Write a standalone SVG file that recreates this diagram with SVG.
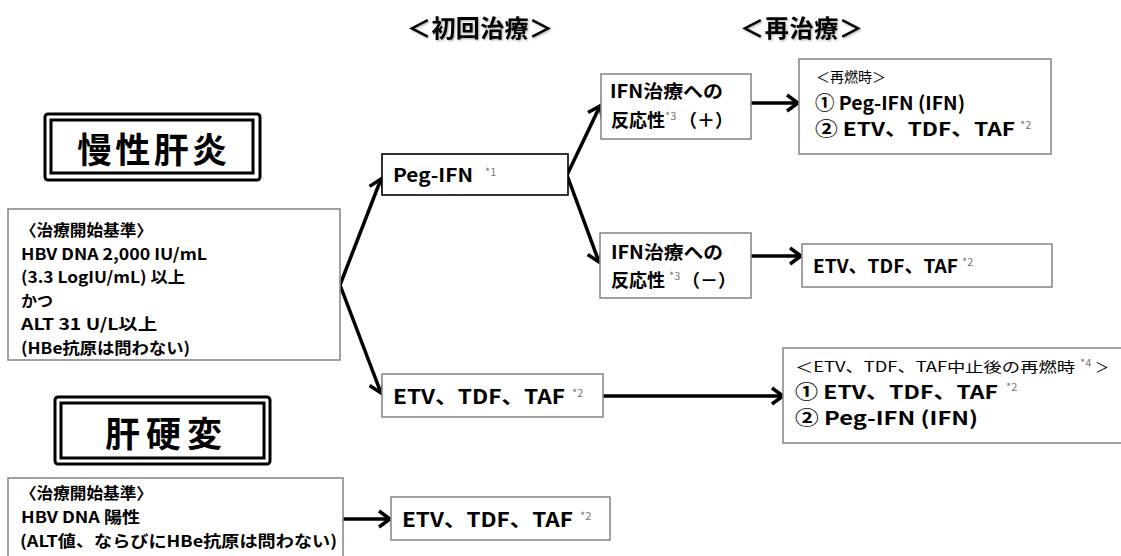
<svg xmlns="http://www.w3.org/2000/svg" width="1121" height="556" viewBox="0 0 1121 556">
  <style>
    text { font-family: "Noto Sans CJK JP", "Noto Sans", sans-serif; fill: #000; }
    .hdr { font-size: 24px; font-weight: 700; }
    .title { font-size: 35px; font-weight: 700; }
    .crit { font-size: 16px; font-weight: 700; }
    .t18 { font-size: 18px; font-weight: 700; }
    .t19 { font-size: 19px; font-weight: 700; }
    .t20 { font-size: 20px; font-weight: 700; }
    .small { font-size: 14px; font-weight: 400; }
    .sup { font-size: 11px; font-weight: 400; fill: #777; }
    .box { fill: #fff; stroke: #8a8a8a; stroke-width: 1.6; }
    .boxk { fill: #fff; stroke: #000; stroke-width: 1.6; }
    .dbl { fill: #fff; stroke: #000; stroke-width: 3; }
    .arrow { fill: none; stroke: #000; stroke-width: 3.5; marker-end: url(#head); }
  </style>
  <defs>
    <marker id="head" markerUnits="userSpaceOnUse" markerWidth="20" markerHeight="20" viewBox="0 0 20 20" refX="16" refY="10" orient="auto">
      <path d="M5,2 L16,10 L5,18" fill="none" stroke="#000" stroke-width="3.5" stroke-linejoin="miter"/>
    </marker>
    <filter id="shadow" x="-10%" y="-30%" width="120%" height="160%">
      <feDropShadow dx="1" dy="1" stdDeviation="1" flood-color="#000" flood-opacity="0.35"/>
    </filter>
  </defs>

  <!-- column headings -->
  <g id="headers" filter="url(#shadow)">
    <text class="hdr" x="407" y="37" textLength="146" lengthAdjust="spacing">＜初回治療＞</text>
    <text class="hdr" x="740" y="37" textLength="123" lengthAdjust="spacing">＜再治療＞</text>
  </g>

  <!-- connectors -->
  <g id="connectors">
    <path class="arrow" d="M340,285 L381,179"/>
    <path class="arrow" d="M340,285 L381,393"/>
    <path class="arrow" d="M567,175 L600,106"/>
    <path class="arrow" d="M567,175 L599,262"/>
    <path class="arrow" d="M751,103 L798,103"/>
    <path class="arrow" d="M751,256 L801,256"/>
    <path class="arrow" d="M603,396 L783,396"/>
    <path class="arrow" d="M343,519 L390,519"/>
  </g>

  <!-- chronic hepatitis title -->
  <g id="title-chronic">
    <rect class="dbl" x="45" y="114" width="215" height="66" rx="3"/>
    <rect class="dbl" x="51" y="120" width="202" height="53"/>
    <text class="title" x="77" y="163" textLength="150" lengthAdjust="spacing">慢性肝炎</text>
  </g>

  <!-- chronic hepatitis criteria -->
  <g id="criteria-chronic">
    <rect class="box" x="8" y="209" width="332" height="151"/>
    <text class="crit" x="20" y="236" textLength="133" lengthAdjust="spacingAndGlyphs">〈治療開始基準〉</text>
    <text class="crit" x="21" y="259.5" textLength="186" lengthAdjust="spacingAndGlyphs">HBV DNA 2,000 IU/mL</text>
    <text class="crit" x="21" y="283" textLength="164" lengthAdjust="spacingAndGlyphs">(3.3 LogIU/mL) 以上</text>
    <text class="crit" x="21" y="306.5">かつ</text>
    <text class="crit" x="21" y="330" textLength="136" lengthAdjust="spacingAndGlyphs">ALT 31 U/L以上</text>
    <text class="crit" x="21" y="353.5" textLength="169" lengthAdjust="spacingAndGlyphs">(HBe抗原は問わない)</text>
  </g>

  <!-- cirrhosis title -->
  <g id="title-cirrhosis">
    <rect class="dbl" x="55" y="397" width="215" height="67" rx="3"/>
    <rect class="dbl" x="61" y="403" width="203" height="55"/>
    <text class="title" x="105" y="447" textLength="117" lengthAdjust="spacing">肝硬変</text>
  </g>

  <!-- cirrhosis criteria -->
  <g id="criteria-cirrhosis">
    <rect class="box" x="8" y="478" width="335" height="90"/>
    <text class="crit" x="20" y="499" textLength="133" lengthAdjust="spacingAndGlyphs">〈治療開始基準〉</text>
    <text class="crit" x="21" y="523" textLength="119" lengthAdjust="spacingAndGlyphs">HBV DNA 陽性</text>
    <text class="crit" x="20" y="547" textLength="317" lengthAdjust="spacingAndGlyphs">(ALT値、ならびにHBe抗原は問わない)</text>
  </g>

  <!-- first-line: Peg-IFN -->
  <g id="peg-ifn">
    <rect class="boxk" x="382" y="154" width="186" height="41"/>
    <text class="t19" x="393" y="182" textLength="80" lengthAdjust="spacingAndGlyphs">Peg-IFN</text>
    <text class="sup" x="485" y="176">*1</text>
  </g>

  <!-- first-line: nucleos(t)ide analogues -->
  <g id="na-first">
    <rect class="box" x="382" y="374" width="221" height="43"/>
    <text class="t20" x="393" y="404" textLength="172" lengthAdjust="spacingAndGlyphs">ETV、TDF、TAF</text>
    <text class="sup" x="572" y="397">*2</text>
  </g>

  <!-- IFN response positive -->
  <g id="ifn-response-pos">
    <rect class="box" x="601" y="74" width="150" height="65"/>
    <text class="t18" x="610" y="98" textLength="113" lengthAdjust="spacingAndGlyphs">IFN治療への</text>
    <text class="t18" x="611" y="127">反応性</text>
    <text class="sup" x="665" y="120">*3</text>
    <text class="t18" x="679" y="127">（＋）</text>
  </g>

  <!-- IFN response negative -->
  <g id="ifn-response-neg">
    <rect class="box" x="600" y="233" width="151" height="65"/>
    <text class="t18" x="611" y="259" textLength="112" lengthAdjust="spacingAndGlyphs">IFN治療への</text>
    <text class="t18" x="611" y="287" textLength="54" lengthAdjust="spacing">反応性</text>
    <text class="sup" x="669" y="280">*3</text>
    <text class="t18" x="682" y="287">（－）</text>
  </g>

  <!-- retreatment on relapse after IFN -->
  <g id="retreat-relapse">
    <rect class="box" x="799" y="59" width="252" height="95"/>
    <text class="small" x="816" y="82">＜再燃時＞</text>
    <text class="t19" x="815" y="110" textLength="150" lengthAdjust="spacingAndGlyphs">① Peg-IFN (IFN)</text>
    <text class="t19" x="815" y="136" textLength="200" lengthAdjust="spacingAndGlyphs">② ETV、TDF、TAF</text>
    <text class="sup" x="1020" y="129">*2</text>
  </g>

  <!-- retreatment for non-responders -->
  <g id="retreat-na">
    <rect class="box" x="802" y="244" width="250" height="43"/>
    <text class="t19" x="813" y="273" textLength="145" lengthAdjust="spacingAndGlyphs">ETV、TDF、TAF</text>
    <text class="sup" x="962" y="266">*2</text>
  </g>

  <!-- retreatment after stopping NA -->
  <g id="retreat-after-na">
    <rect class="box" x="783" y="348" width="345" height="95"/>
    <text class="small" x="795" y="372" textLength="280" lengthAdjust="spacingAndGlyphs">＜ETV、TDF、TAF中止後の再燃時</text>
    <text class="sup" x="1080" y="367">*4</text>
    <text class="small" x="1095" y="372">＞</text>
    <text class="t19" x="795" y="399" textLength="203" lengthAdjust="spacingAndGlyphs">① ETV、TDF、TAF</text>
    <text class="sup" x="1006" y="391">*2</text>
    <text class="t19" x="795" y="425" textLength="183" lengthAdjust="spacingAndGlyphs">② Peg-IFN (IFN)</text>
  </g>

  <!-- cirrhosis treatment -->
  <g id="na-cirrhosis">
    <rect class="box" x="391" y="497" width="219" height="43"/>
    <text class="t20" x="402" y="527" textLength="171" lengthAdjust="spacingAndGlyphs">ETV、TDF、TAF</text>
    <text class="sup" x="580" y="520">*2</text>
  </g>
</svg>
